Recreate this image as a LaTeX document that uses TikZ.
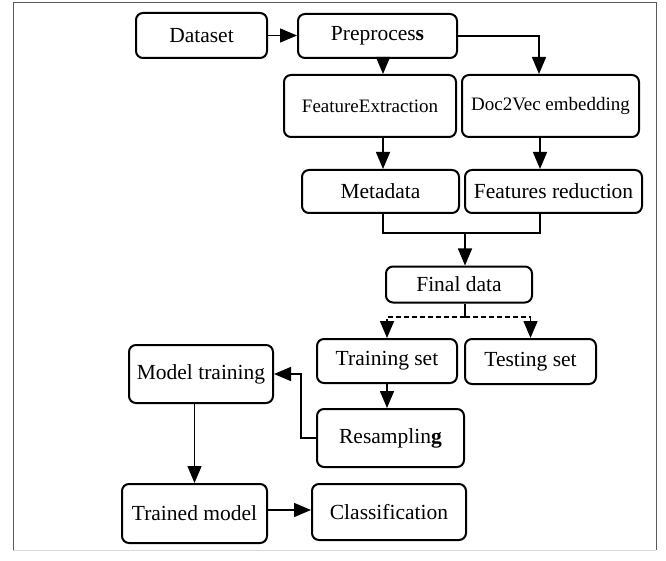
\documentclass[tikz,border=0pt]{standalone}
\usepackage{fontspec}
\setmainfont{Liberation Serif}
\usetikzlibrary{arrows.meta}
\newcommand{\boxfont}{\fontsize{21.5}{25}\selectfont}
\newcommand{\smallboxfont}{\fontsize{19}{22}\selectfont}
\tikzset{
  box/.style={draw, line width=2pt, rounded corners=7pt, inner sep=0pt,
              align=center, font=\boxfont},
  smallbox/.style={box, font=\smallboxfont},
  link/.style={line width=1.5pt},
  arr/.style={link, -{Triangle[length=17pt,width=14pt]}},
}
\begin{document}
\begin{tikzpicture}
\useasboundingbox (0,0) rectangle (666pt,-561pt);
% frame
\draw[gray!70!black, line width=1pt] (13pt,-550pt) -- (13pt,-3pt) -- (656pt,-3pt) -- (656pt,-550pt);
\draw[gray!30, line width=1pt] (13pt,-550pt) -- (656pt,-550pt);
% boxes
\node[box, minimum width=131pt, minimum height=45pt] (dataset) at (201.5pt,-35.5pt) {Dataset};
\node[box, minimum width=159pt, minimum height=44pt] (preprocess) at (377.5pt,-36pt) {Preproces\textbf{s}};
\node[smallbox, minimum width=172pt, minimum height=62pt] (featext) at (370pt,-106pt) {FeatureExtraction};
\node[smallbox, minimum width=177pt, minimum height=62pt] (doc2vec) at (550.5pt,-106pt) {Doc2Vec embedding};
\node[box, minimum width=157pt, minimum height=43pt] (metadata) at (380.5pt,-191.5pt) {Metadata};
\node[box, minimum width=177pt, minimum height=43pt] (reduction) at (553.5pt,-191.5pt) {Features reduction};
\node[box, minimum width=146pt, minimum height=36pt] (finaldata) at (459pt,-284.5pt) {Final data};
\node[box, minimum width=140pt, minimum height=44pt] (trainset) at (387pt,-361pt) {Training set};
\node[box, minimum width=131pt, minimum height=45pt] (testset) at (530.5pt,-361.5pt) {Testing set};
\node[box, minimum width=147pt, minimum height=58pt] (resampling) at (390.5pt,-438pt) {Resamplin\textbf{g}};
\node[box, minimum width=144pt, minimum height=58pt] (modeltrain) at (201pt,-374pt) {Model training};
\node[box, minimum width=145pt, minimum height=59pt] (trained) at (194.5pt,-513.5pt) {Trained model};
\node[box, minimum width=154pt, minimum height=56pt] (classif) at (389pt,-512pt) {Classification};
% joints
\coordinate (join) at (465pt,-233pt);
\coordinate (split) at (465pt,-317pt);
% connectors
\draw[arr] (dataset.east) -- (dataset.east -| preprocess.west);
\draw[arr] ([xshift=5.5pt]preprocess.south) -- ([xshift=13pt]featext.north);
\draw[arr] (preprocess.east) -| ([xshift=-11.5pt]doc2vec.north);
\draw[arr] ([xshift=13pt]featext.south) -- ([xshift=2.5pt]metadata.north);
\draw[arr] ([xshift=-10.5pt]doc2vec.south) -- ([xshift=-13.5pt]reduction.north);
\draw[link] ([xshift=2.5pt]metadata.south) |- (join) -| ([xshift=-13.5pt]reduction.south);
\draw[arr] (join) -- (join |- finaldata.north);
\draw[link] (finaldata.south -| split) -- (split);
\draw[arr, dash pattern=on 5pt off 3pt] (split) -| (trainset.north);
\draw[arr, dash pattern=on 5pt off 3pt] (split) -| (testset.north);
\draw[arr] (trainset.south) -- (trainset.south |- resampling.north);
\draw[arr] (resampling.west) -- ++(-15pt,0) |- (modeltrain.east);
\draw[arr] (modeltrain.south -| trained.north) -- (trained.north);
\draw[arr] ([yshift=3.5pt]trained.east) -- ([yshift=3.5pt]trained.east -| classif.west);
\end{tikzpicture}
\end{document}
